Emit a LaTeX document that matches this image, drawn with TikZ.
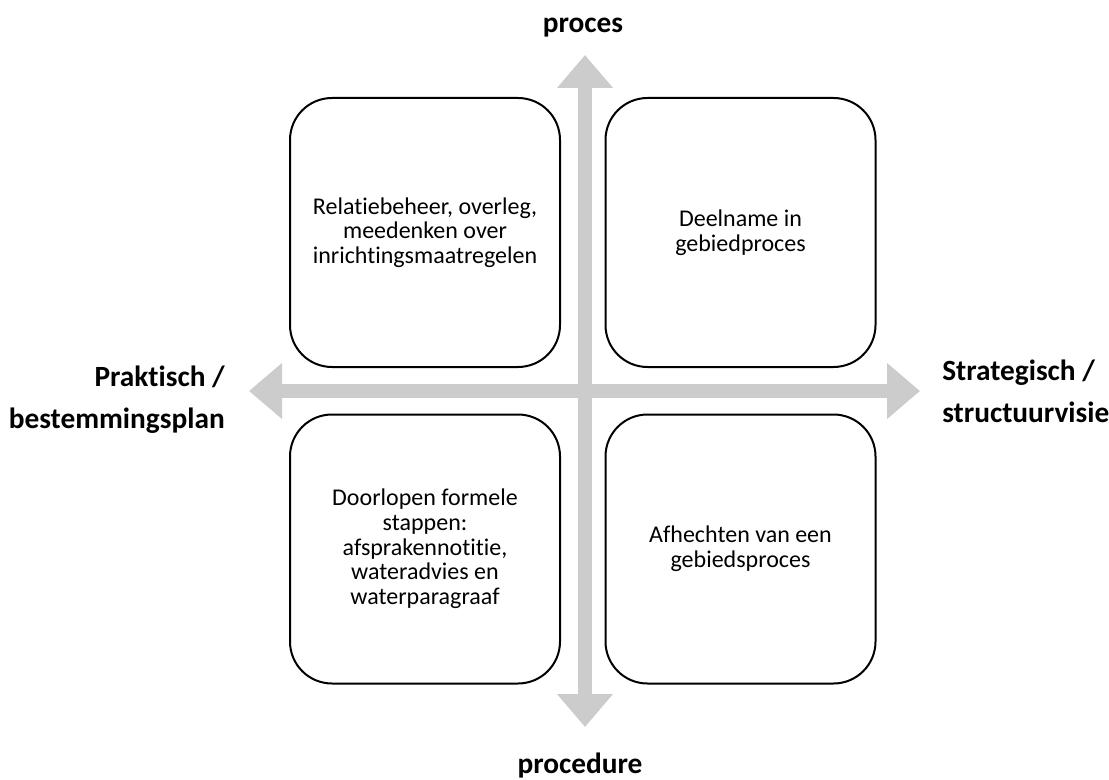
\documentclass[tikz,border=0pt]{standalone}
\usepackage{fontspec}
\setmainfont{Carlito}[Ligatures={NoCommon, NoRare}]
\usetikzlibrary{positioning, arrows.meta}
\definecolor{Dark}{HTML}{000000}
\definecolor{Axis}{HTML}{CCCCCC}
\definecolor{White}{HTML}{FFFFFF}
\tikzset{
    quadbox/.style={rectangle, rounded corners=31.5pt, draw=Dark, line width=1.5pt, fill=White, text=Dark, align=center, minimum width=202.5pt, minimum height=201.75pt, font=\fontsize{18}{18.5}\selectfont},
    axislabel/.style={text=Dark, font=\bfseries\fontsize{22}{31.5}\selectfont, inner sep=0pt},
    axisarrow/.style={{Triangle[length=24.75pt, width=40.5pt]}-{Triangle[length=24.75pt, width=40.5pt]}, line width=10.5pt, color=Axis},
}
\begin{document}
\begin{tikzpicture}[x=0.75pt, y=-0.75pt]
        \useasboundingbox (0,0) rectangle (1109,780);

        % --- Axis end points ---
        \coordinate (top)    at (585, 55);
        \coordinate (bottom) at (585, 727);
        \coordinate (left)   at (249, 391);
        \coordinate (right)  at (920, 391);

        % Axes
        \draw[axisarrow] (bottom) -- (top);
        \draw[axisarrow] (left) -- (right);

        % --- Quadrants (2x2 grid) ---
        \node[quadbox] (tl) at (425, 232.5) {Relatiebeheer, overleg,\\meedenken over\\inrichtingsmaatregelen};
        \node[quadbox] (tr) at (740.5, 232.5) {Deelname in\\gebiedproces};
        \node[quadbox] (bl) at (425, 549) {Doorlopen formele\\stappen:\\afsprakennotitie,\\wateradvies en\\waterparagraaf};
        \node[quadbox] (br) at (740.5, 549) {Afhechten van een\\gebiedsproces};

        % Axis labels
        \node[axislabel, anchor=base] (proces) at (583, 33) {proces};
        \node[axislabel, anchor=base] (procedure) at (580, 773) {procedure};
        \node[axislabel, anchor=base east, align=right] (praktisch) at (225, 428) {Praktisch /\\bestemmingsplan};
        \node[axislabel, anchor=base west, align=left] (strategisch) at (942, 422) {Strategisch /\\structuurvisie};
    \end{tikzpicture}
\end{document}
